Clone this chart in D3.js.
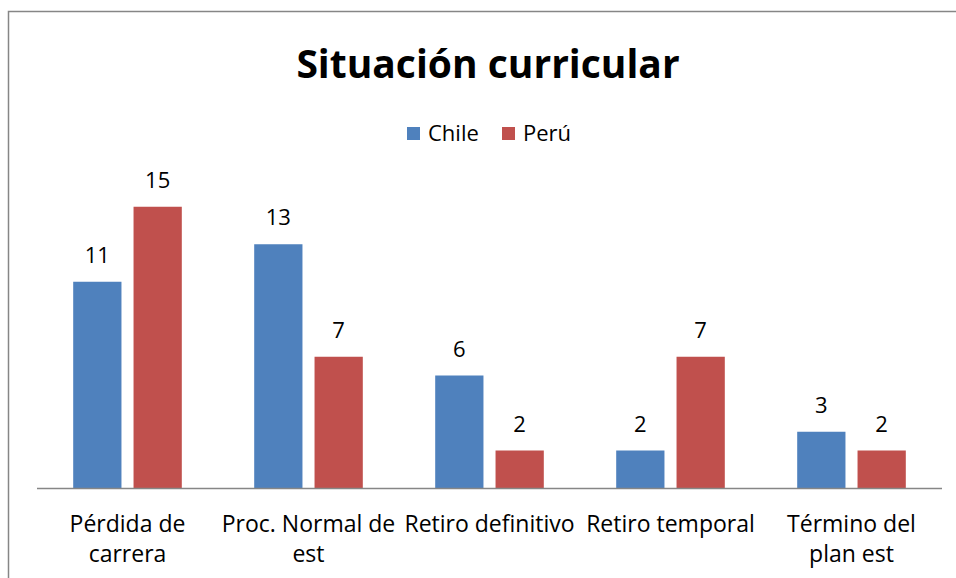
<!DOCTYPE html>
<html>
<head>
<meta charset="utf-8">
<script src="https://cdn.jsdelivr.net/npm/d3@7"></script>
<style>
  body { margin: 0; background: #fff; }
  svg { display: block; font-family: "Open Sans", sans-serif; }
</style>
</head>
<body>
<div id="chart"></div>
<script>
// data
const categories = [
  ['Pérdida de', 'carrera'],
  ['Proc. Normal de', 'est'],
  ['Retiro definitivo'],
  ['Retiro temporal'],
  ['Término del', 'plan est']
];
const seriesNames = ['Chile', 'Perú'];
const chile = [11, 13, 6, 2, 3];
const peru = [15, 7, 2, 7, 2];
const colors = ['#4f81bd', '#c0504d'];

const W = 956, H = 578;
const margin = {top: 188, right: 14, bottom: 90, left: 37};

const svg = d3.select('#chart').append('svg')
  .attr('width', W)
  .attr('height', H);

// frame
svg.append('rect')
  .attr('x', 8.5).attr('y', 11.5)
  .attr('width', W + 20).attr('height', H + 20)
  .attr('fill', 'none')
  .attr('stroke', '#868686')
  .attr('stroke-width', 1.5);

const data = categories.map((c, i) => ({cat: i, values: [chile[i], peru[i]]}));

const x0 = d3.scaleBand()
  .domain(d3.range(categories.length))
  .range([margin.left, W - margin.right])
  .paddingInner(0.4)
  .paddingOuter(0.2);

const x1 = d3.scaleBand()
  .domain(d3.range(seriesNames.length))
  .range([0, x0.bandwidth()])
  .paddingInner(0.2);

const y = d3.scaleLinear()
  .domain([0, 16])
  .range([H - margin.bottom, margin.top]);

// bars
const groups = svg.selectAll('.grp')
  .data(data)
  .enter().append('g')
  .attr('class', 'grp')
  .attr('transform', d => `translate(${x0(d.cat)},0)`);

groups.selectAll('rect')
  .data(d => d.values.map((v, s) => ({v, s})))
  .enter().append('rect')
  .attr('x', d => x1(d.s))
  .attr('width', x1.bandwidth())
  .attr('y', d => y(d.v))
  .attr('height', d => y(0) - y(d.v))
  .attr('fill', d => colors[d.s]);

groups.selectAll('.val')
  .data(d => d.values.map((v, s) => ({v, s})))
  .enter().append('text')
  .attr('class', 'val')
  .attr('x', d => x1(d.s) + x1.bandwidth() / 2)
  .attr('y', d => y(d.v) - 19)
  .attr('text-anchor', 'middle')
  .style('font-size', '22px')
  .style('fill', '#000')
  .text(d => d.v);

// x axis line
svg.append('line')
  .attr('x1', margin.left).attr('x2', W - margin.right)
  .attr('y1', y(0) + 0.5).attr('y2', y(0) + 0.5)
  .attr('stroke', '#868686')
  .attr('stroke-width', 1.5);

// category labels
const cl = svg.selectAll('.cat')
  .data(categories)
  .enter().append('text')
  .attr('class', 'cat')
  .attr('text-anchor', 'middle')
  .style('font-size', '23px')
  .style('fill', '#000');
cl.selectAll('tspan')
  .data((d, i) => d.map(t => ({t, i})))
  .enter().append('tspan')
  .attr('x', d => x0(d.i) + x0.bandwidth() / 2)
  .attr('y', (d, j) => 532 + j * 30)
  .text(d => d.t);

// title
svg.append('text')
  .attr('x', 488).attr('y', 78)
  .attr('text-anchor', 'middle')
  .style('font-size', '39px')
  .style('font-weight', 'bold')
  .text('Situación curricular');

// legend
const legendX = [407, 502];
const leg = svg.selectAll('.leg')
  .data(seriesNames)
  .enter().append('g')
  .attr('class', 'leg')
  .attr('transform', (d, i) => `translate(${legendX[i]},127)`);
leg.append('rect')
  .attr('width', 13).attr('height', 13)
  .attr('fill', (d, i) => colors[i]);
leg.append('text')
  .attr('x', 21).attr('y', 14)
  .style('font-size', '22px')
  .text(d => d);
</script>
</body>
</html>
